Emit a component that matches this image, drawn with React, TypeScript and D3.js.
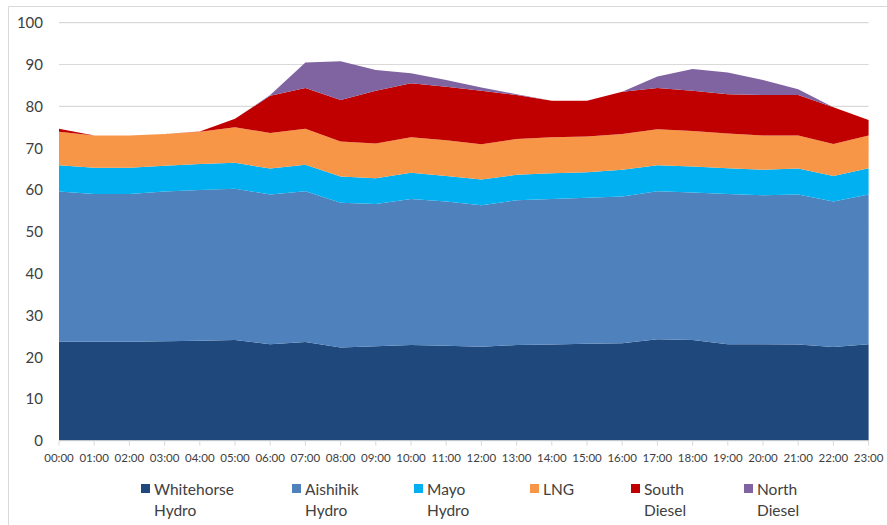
import React from "react";
import * as d3 from "d3";

const hours = [
  "00:00", "01:00", "02:00", "03:00", "04:00", "05:00", "06:00", "07:00",
  "08:00", "09:00", "10:00", "11:00", "12:00", "13:00", "14:00", "15:00",
  "16:00", "17:00", "18:00", "19:00", "20:00", "21:00", "22:00", "23:00",
];

const whitehorseHydro = [23.7, 23.7, 23.7, 23.8, 23.9, 24.1, 23.1, 23.6, 22.3, 22.6, 22.9, 22.7, 22.5, 22.9, 23.0, 23.2, 23.3, 24.3, 24.1, 23.1, 23.1, 23.0, 22.4, 23.1];
const aishihikHydro = [35.9, 35.3, 35.3, 35.8, 36.1, 36.2, 35.8, 36.1, 34.6, 34.0, 34.9, 34.5, 33.8, 34.6, 34.8, 34.9, 35.1, 35.4, 35.3, 35.9, 35.6, 35.9, 34.8, 35.8];
const mayoHydro = [6.3, 6.3, 6.3, 6.2, 6.2, 6.2, 6.2, 6.3, 6.3, 6.2, 6.3, 6.1, 6.2, 6.1, 6.2, 6.1, 6.4, 6.2, 6.2, 6.2, 6.1, 6.2, 6.1, 6.3];
const lng = [8.0, 7.7, 7.7, 7.6, 7.7, 8.5, 8.5, 8.6, 8.4, 8.3, 8.5, 8.6, 8.4, 8.6, 8.6, 8.6, 8.6, 8.6, 8.5, 8.3, 8.2, 7.9, 7.7, 7.8];
const southDiesel = [0.7, 0, 0, 0, 0.1, 2.0, 8.9, 9.8, 9.9, 12.6, 12.9, 12.8, 12.8, 10.5, 8.7, 8.5, 10.1, 9.9, 9.6, 9.4, 9.7, 9.7, 8.8, 3.7];
const northDiesel = [0, 0, 0, 0, 0, 0, 0.2, 6.1, 9.3, 5.0, 2.4, 1.6, 0.8, 0.2, 0, 0, 0, 2.7, 5.2, 5.2, 3.6, 1.4, 0, 0];

const yTicks = [0, 10, 20, 30, 40, 50, 60, 70, 80, 90, 100];

const seriesNames = ["Whitehorse Hydro", "Aishihik Hydro", "Mayo Hydro", "LNG", "South Diesel", "North Diesel"];
const seriesLines = [["Whitehorse", "Hydro"], ["Aishihik", "Hydro"], ["Mayo", "Hydro"], ["LNG"], ["South", "Diesel"], ["North", "Diesel"]];
const seriesValues = [whitehorseHydro, aishihikHydro, mayoHydro, lng, southDiesel, northDiesel];
const colors = ["#1F487C", "#4F81BD", "#00B0F0", "#F79646", "#C00000", "#8064A2"];
const legendX = [141, 292, 414, 530, 631, 744];

export default function App() {
  const W = 887, H = 525;
  const x = d3.scalePoint<string>().domain(hours).range([59, 868.6]);
  const y = d3.scaleLinear().domain([0, 100]).range([440.7, 22.7]);

  const rows = hours.map((h, i) => {
    const r: any = { hour: h };
    seriesNames.forEach((n, k) => (r[n] = seriesValues[k][i]));
    return r;
  });
  const stacked = d3.stack<any>().keys(seriesNames)(rows);
  const area = d3
    .area<any>()
    .x((d) => x(d.data.hour) as number)
    .y0((d) => y(d[0]))
    .y1((d) => y(d[1]));

  const font = "Lato, 'Open Sans', sans-serif";
  const textColor = "#404040";

  return (
    <svg width={W} height={H} style={{ position: "absolute", left: 0, top: 0, background: "#fff" }} fontFamily={font}>
      <rect x={0} y={0} width={W} height={H} fill="#fff" />
      <path d={`M8.5,${H} V6.5 H${W}`} fill="none" stroke="#D9D9D9" strokeWidth={1} />
      {yTicks.map((t) => (
        <g key={t}>
          {t > 0 && (
            <line x1={59} x2={868.6} y1={y(t)} y2={y(t)} stroke="#D9D9D9" strokeWidth={1.2} />
          )}
          <text x={43} y={y(t)} dy="0.36em" textAnchor="end" fontSize={15} fill={textColor}>
            {t}
          </text>
        </g>
      ))}
      {stacked.map((s, k) => (
        <path key={s.key} d={area(s) || ""} fill={colors[k]} stroke="none" />
      ))}
      <line x1={59} x2={868.6} y1={y(0)} y2={y(0)} stroke="#D9D9D9" strokeWidth={1} />
      {hours.map((h) => (
        <g key={h}>
          <line x1={x(h)} x2={x(h)} y1={y(0)} y2={y(0) + 5} stroke="#D9D9D9" strokeWidth={1} />
          <text x={x(h)} y={462} textAnchor="middle" fontSize={11.5} fill={textColor}>
            {h}
          </text>
        </g>
      ))}
      {seriesLines.map((lines, k) => (
        <g key={k}>
          <rect x={legendX[k]} y={484} width={9} height={9} fill={colors[k]} />
          {lines.map((ln, j) => (
            <text key={j} x={legendX[k] + 13} y={495 + j * 21} fontSize={15.5} fill={textColor}>
              {ln}
            </text>
          ))}
        </g>
      ))}
    </svg>
  );
}
